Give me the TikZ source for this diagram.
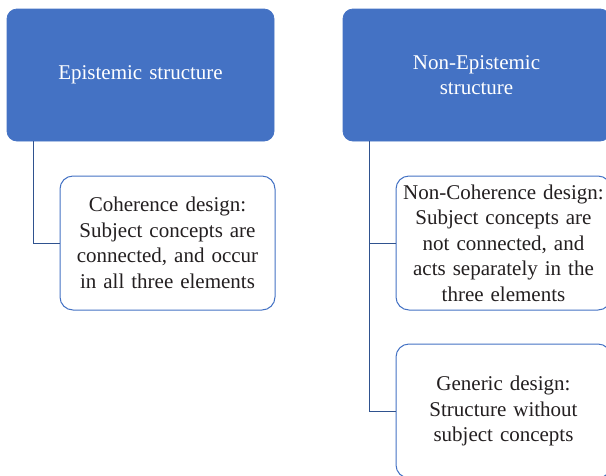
\documentclass[tikz,border=0pt]{standalone}
\usepackage{fontspec}
\setmainfont{Liberation Serif}
\definecolor{boxblue}{HTML}{4472C4}
\definecolor{lineblue}{HTML}{2F528F}
\definecolor{txt}{HTML}{231F20}
\begin{document}
\begin{tikzpicture}[x=1pt,y=-1pt,
  topbox/.style={draw=boxblue,fill=boxblue,rounded corners=10pt,line width=0.8pt,
    minimum width=267pt,minimum height=132pt,text width=240pt,align=center,
    text=white,font=\fontsize{21}{25.5}\selectfont,inner sep=0pt},
  childbox/.style={draw=boxblue,fill=white,rounded corners=13pt,line width=1pt,
    minimum width=215pt,minimum height=134pt,text width=212pt,align=center,
    text=txt,font=\fontsize{21}{25.5}\selectfont,inner sep=0pt},
  conn/.style={draw=lineblue,line width=1pt}]
\useasboundingbox (0,0) rectangle (606,475);
\clip (0,0) rectangle (606,475);
\node[topbox] (e) at (140.5,75) {Epistemic structure};
\node[topbox] (n) at (476.5,75) {Non-Epistemic\\structure\\[18pt]};
\node[childbox] (c) at (167.5,243) {Coherence design:\\Subject concepts are\\connected, and occur\\in all three elements};
\node[childbox] (nc) at (503.5,243) {Non-Coherence design:\\Subject concepts are\\not connected, and\\acts separately in the\\three elements};
\node[childbox] (g) at (503.5,411) {Generic design:\\Structure without\\subject concepts};
\coordinate (ea) at (33,141);
\coordinate (na) at (369,141);
\draw[conn] (ea) |- (c.west);
\draw[conn] (na) |- (nc.west);
\draw[conn] (na) |- (g.west);
\end{tikzpicture}
\end{document}
